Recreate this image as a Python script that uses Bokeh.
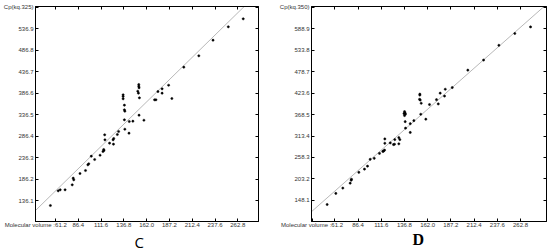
from bokeh.plotting import figure
from bokeh.models import (FixedTicker, LinearAxis, Range1d, Title,
                          CustomJSTickFormatter, PrintfTickFormatter)
from bokeh.layouts import row
from bokeh.embed import file_html
from bokeh.resources import INLINE

# ---------------- Panel C data ----------------
c_x = [268.8, 252.3, 235.4, 219.7, 203.1, 186.3, 179.1, 179.1, 174.5, 189.9,
       170.8, 172.3, 153.3, 153.3, 153.6, 152.2, 152.9, 154.0, 136.0, 136.0,
       136.0, 137.4, 137.4, 137.9, 137.4, 142.8, 146.8, 153.6, 159.0, 142.5,
       137.9, 131.0, 129.6, 125.6, 124.9, 121.0, 125.3, 115.6, 115.9, 114.5,
       114.8, 113.7, 110.5, 100.8, 104.5, 98.0, 97.0, 94.4, 88.3, 80.8,
       81.4, 79.7, 71.8, 66.4, 64.2, 55.6]
c_y = [560.2, 541.6, 510.3, 473.9, 447.3, 405.2, 396.8, 386.6, 390.5, 374.2,
       371.2, 371.2, 406.9, 402.9, 399.2, 391.2, 386.6, 375.8, 382.8, 378.9,
       373.5, 358.6, 347.8, 344.6, 324.5, 320.5, 321.2, 335.2, 323.5, 293.2,
       302.5, 297.2, 290.2, 280.8, 277.8, 269.9, 267.5, 289.5, 277.8, 255.1,
       252.8, 250.5, 241.8, 239.5, 231.8, 221.8, 219.4, 206.1, 199.1, 188.2,
       184.4, 172.7, 161.1, 161.1, 158.7, 124.4]
c_fit_x = [39.1, 269.9]
c_fit_y = [112.8, 589.0]
c_xticks = [61.2, 86.4, 111.6, 136.8, 162.0, 187.2, 212.4, 237.6, 262.8]
c_yticks = [136.1, 186.2, 236.3, 286.4, 336.5, 386.6, 436.7, 486.8, 536.9, 587.0]
c_ylabel = "Cp(kq.325)"
c_title = "C"

# ---------------- Panel D data ----------------
d_x = [273.7, 256.6, 239.3, 222.7, 205.6, 188.7, 181.1, 180.3, 175.6, 171.6,
       173.5, 164.0, 153.5, 153.5, 153.2, 153.9, 155.0, 154.5, 160.0, 137.6,
       143.1, 147.0, 138.0, 143.1, 130.7, 131.8, 130.7, 126.3, 124.9, 126.0,
       121.4, 115.5, 115.5, 115.2, 114.1, 113.3, 109.7, 104.0, 99.6, 96.7,
       93.4, 87.3, 79.3, 79.0, 77.9, 69.9, 62.3, 52.9,
       136.9, 137.4, 137.9, 136.9, 136.3]
d_y = [594.0, 577.1, 546.7, 508.8, 482.8, 438.0, 433.7, 416.1, 423.6, 406.9,
       395.8, 394.3, 421.1, 418.6, 407.7, 405.9, 397.6, 369.3, 356.6, 350.3,
       345.0, 352.9, 333.6, 322.5, 309.1, 304.1, 293.2, 304.1, 291.4, 292.2,
       295.7, 305.8, 294.7, 277.0, 274.5, 273.7, 268.7, 256.0, 253.5, 235.8,
       228.2, 219.9, 202.2, 199.7, 192.1, 179.4, 165.8, 137.2,
       376.1, 372.8, 369.8, 366.0, 371.1]
d_fit_x = [35.9, 288.1]
d_fit_y = [118.8, 646.0]
d_xticks = [61.2, 86.4, 111.6, 136.8, 162.0, 187.2, 212.4, 237.6, 262.8]
d_yticks = [148.1, 203.2, 258.3, 313.4, 368.5, 423.6, 478.7, 533.8, 588.9, 644.0]
d_ylabel = "Cp(kq.350)"
d_title = "D"

x_prefix = "Molecular volume :"

TICK_FONT = "Liberation Sans"
TICK_SIZE = "6px"
TICK_COLOR = "#333333"


def style_axis(ax, labels=True):
    if not labels:
        ax.formatter = CustomJSTickFormatter(code="return ''")
    ax.major_tick_in = 3
    ax.major_tick_out = 0
    ax.minor_tick_in = 0
    ax.minor_tick_out = 0
    ax.axis_line_color = "black"
    ax.major_tick_line_color = "black"
    ax.major_label_text_font = TICK_FONT
    ax.major_label_text_font_size = TICK_SIZE
    ax.major_label_text_color = TICK_COLOR
    ax.major_label_standoff = 2 if labels else 0


def panel(xs, ys, fx, fy, xticks, yticks, ylabel, title, xr, yr, width,
          bl, br, bt, bb, title_offset, title_font, title_size, title_style,
          title_standoff, prefix_shift_px):
    p = figure(width=width, height=251, x_range=Range1d(*xr), y_range=Range1d(*yr),
               output_backend="svg", toolbar_location=None,
               min_border_left=bl, min_border_right=br,
               min_border_top=bt, min_border_bottom=bb,
               background_fill_color="white", border_fill_color="white",
               outline_line_color="black", x_axis_location=None)
    p.grid.visible = False

    # left axis
    yax = p.yaxis[0]
    yax.ticker = FixedTicker(ticks=yticks)
    yax.formatter = PrintfTickFormatter(format="%.1f")
    yax.major_label_overrides = {yticks[-1]: ylabel}
    style_axis(yax, True)

    # top / right axes: inward ticks only
    top = LinearAxis(ticker=FixedTicker(ticks=xticks))
    style_axis(top, labels=False)
    p.add_layout(top, "above")
    right = LinearAxis(ticker=FixedTicker(ticks=yticks))
    style_axis(right, labels=False)
    p.add_layout(right, "right")

    # bottom axis: the first label carries the axis name to its left, so its
    # label anchor is shifted; its tick mark is drawn as a "minor" tick.
    frame_w = width - bl - br
    px_per_unit = frame_w / (xr[1] - xr[0])
    first_pos = xticks[0] - prefix_shift_px / px_per_unit
    label_pos = [first_pos] + xticks[1:]
    label_txt = [x_prefix + f"{xticks[0]:.1f}"] + [f"{t:.1f}" for t in xticks[1:]]
    bottom = LinearAxis(ticker=FixedTicker(ticks=label_pos, minor_ticks=[xticks[0]]),
                        major_label_overrides=dict(zip(label_pos, label_txt)))
    style_axis(bottom, True)
    bottom.minor_tick_in = 3
    bottom.minor_tick_line_color = "black"
    bottom.major_label_standoff = 0
    p.add_layout(bottom, "below")

    p.add_layout(Title(text=title, align="left", offset=title_offset,
                       text_font=title_font, text_font_size=title_size,
                       text_font_style=title_style, text_color="black",
                       text_line_height=0.8, standoff=title_standoff), "below")

    p.line(fx, fy, line_color="#b8b8b8", line_width=1)
    p.scatter(xs, ys, size=2.2, marker="circle", fill_color="black",
              line_color="black", line_width=0.5)
    return p


p1 = panel(c_x, c_y, c_fit_x, c_fit_y, c_xticks, c_yticks, c_ylabel, c_title,
           (39.1, 285.7), (87.1, 589.0), 275, 29, 17, 6, 30,
           99, "Open Sans", "15px", "normal", -2, 20.3)
p2 = panel(d_x, d_y, d_fit_x, d_fit_y, d_xticks, d_yticks, d_ylabel, d_title,
           (35.9, 291.0), (93.5, 646.5), 275, 36, 4, 4, 28,
           101, "Liberation Serif", "16px", "bold", -3, 22.8)

layout = row(p1, p2, styles={"position": "absolute", "left": "0px", "top": "0px"})

open("out.html", "w").write(file_html(layout, INLINE))
